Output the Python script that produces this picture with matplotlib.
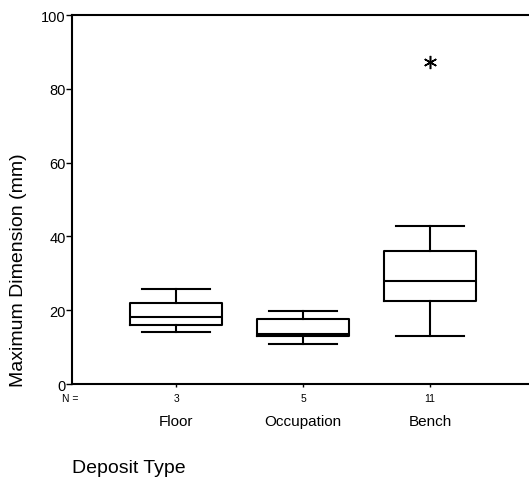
import matplotlib.pyplot as plt

plt.rcParams['font.family'] = ['Liberation Sans', 'DejaVu Sans']

categories = ['Floor', 'Occupation', 'Bench']
counts = [3, 5, 11]
whisker_low = [14.1, 10.9, 13.0]
box_low = [16.1, 13.0, 22.5]
medians = [18.3, 13.5, 27.9]
box_high = [22.0, 17.7, 36.0]
whisker_high = [25.8, 19.8, 42.9]
outliers = [[], [], [87.4]]

stats = []
for i in range(len(categories)):
    stats.append({'whislo': whisker_low[i], 'q1': box_low[i], 'med': medians[i],
                  'q3': box_high[i], 'whishi': whisker_high[i], 'fliers': outliers[i]})

fig = plt.figure(figsize=(5.29, 4.85), dpi=100)
ax = fig.add_axes([0.136, 0.206, 0.864, 0.761])

lw = 1.5
pos = [1, 2, 3]
ax.bxp(stats, positions=pos, widths=0.72, capwidths=0.54,
       boxprops=dict(color='black', linewidth=lw),
       medianprops=dict(color='black', linewidth=lw),
       whiskerprops=dict(color='black', linewidth=lw),
       capprops=dict(color='black', linewidth=lw),
       flierprops=dict(marker=(6, 2, 0), markersize=9.5, markeredgecolor='black',
                       markeredgewidth=1.1, linestyle='none'))

ax.set_ylim(0, 100)
ax.set_xlim(0.18, 3.78)
ax.set_yticks([0, 20, 40, 60, 80, 100])
ax.tick_params(axis='y', direction='out', length=4, width=1, labelsize=10.5, pad=0.5)
ax.set_xticks(pos)
ax.set_xticklabels([str(c) for c in counts])
ax.tick_params(axis='x', direction='out', length=2.5, width=1, labelsize=7.5, pad=4)

for s in ['left', 'bottom', 'top']:
    ax.spines[s].set_linewidth(1.5)
ax.spines['right'].set_visible(False)

ax.text(-0.004, -0.038, 'N =', transform=ax.transAxes, fontsize=7.5, ha='center', va='center')
for p, c in zip(pos, categories):
    ax.text(p, -0.100, c, transform=ax.get_xaxis_transform(), fontsize=11,
            ha='center', va='center')

ax.set_ylabel('Maximum Dimension (mm)', fontsize=14, va='center')
ax.yaxis.set_label_coords(-0.116, 0.3125)
fig.text(0.136, 0.033, 'Deposit Type', fontsize=14, ha='left', va='center')

fig.savefig('out.png', dpi=100)
